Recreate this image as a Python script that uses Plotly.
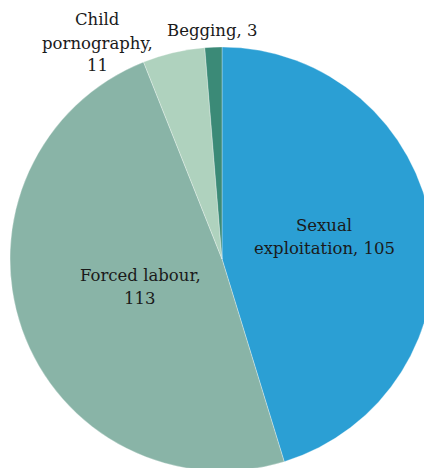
import plotly.graph_objects as go

categories = ["Sexual exploitation", "Forced labour", "Child pornography", "Begging"]
values = [105, 113, 11, 3]
colors = ["#2B9FD4", "#89B4A7", "#AFD2BE", "#3B8A77"]
label_text = ["Sexual<br>exploitation, 105", "Forced labour,<br>113", "Child<br>pornography,<br>11", "Begging, 3"]

W, H = 440, 476
LINE_H = 23
# pixel positions of the label blocks (centres)
label_px = [(324, 237), (140, 287), (97, 43), (212, 31)]

fig = go.Figure(go.Pie(
    labels=categories,
    values=values,
    sort=False,
    direction="clockwise",
    rotation=0,
    textinfo="none",
    hoverinfo="label+value",
    marker=dict(colors=colors, line=dict(color="rgba(255,255,255,0.6)", width=0.5)),
    domain=dict(x=[10 / W, 434 / W], y=[(H - 471) / H, (H - 47) / H]),
    showlegend=False,
))

for txt, (px, py) in zip(label_text, label_px):
    lines = txt.split("<br>")
    n = len(lines)
    for i, line in enumerate(lines):
        ly = py + (i - (n - 1) / 2) * LINE_H
        fig.add_annotation(
            x=px / W, y=1 - ly / H, xref="paper", yref="paper",
            text=line, showarrow=False, xanchor="center", yanchor="middle",
            align="center",
            font=dict(family="DejaVu Serif", size=16.5, color="#1a1a1a"),
        )

fig.update_layout(
    width=W, height=H,
    margin=dict(l=0, r=0, t=0, b=0),
    paper_bgcolor="white",
    plot_bgcolor="white",
)

fig.write_html("out.html", config={"displayModeBar": False},
               post_script="document.body.style.margin='0';document.body.style.overflow='hidden';")
